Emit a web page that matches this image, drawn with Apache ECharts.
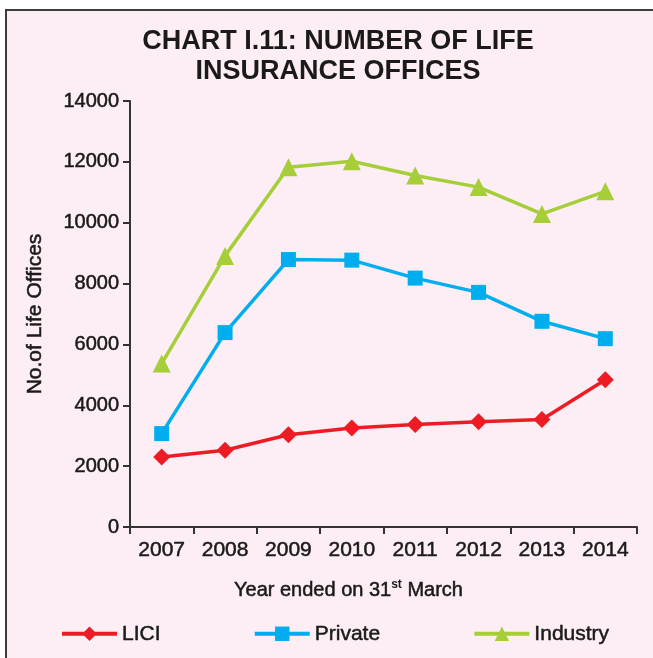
<!DOCTYPE html>
<html lang="en">

<head>
    <meta charset="UTF-8">
    <title>Chart I.11</title>
    <script src="https://cdn.jsdelivr.net/npm/echarts@6/dist/echarts.min.js"></script>
    <style>
        * {
            margin: 0;
            padding: 0
        }

        html,
        body {
            width: 653px;
            height: 658px;
            background: #fff;
            overflow: hidden;
        }

        #frame {
            position: absolute;
            left: 5px;
            top: 9px;
            width: 700px;
            height: 700px;
            border-top: 2px solid #3c3c3c;
            border-left: 2px solid #3c3c3c;
            background: #fdedf4;
        }

        #main {
            position: absolute;
            left: 0;
            top: 0;
            width: 653px;
            height: 658px;
        }
    </style>
</head>

<body>
    <div id="frame"></div>
    <div id="main"></div>
    <script type="text/javascript">
        var years = ['2007', '2008', '2009', '2010', '2011', '2012', '2013', '2014'];
        var lici = [2300, 2520, 3030, 3250, 3370, 3460, 3530, 4840];
        var priv = [3070, 6390, 8790, 8770, 8180, 7710, 6760, 6190];
        var industry = [5370, 8910, 11820, 12020, 11550, 11170, 10290, 11030];

        var font = 'Liberation Sans, Arial, sans-serif';
        var ink = '#1a1a1a';
        // slight outline to thicken the regular face a little
        var heavy = { textBorderColor: ink, textBorderWidth: 0.5 };
        var myChart = echarts.init(document.getElementById('main'));

        var option = {
            backgroundColor: 'transparent',
            animation: false,
            title: {
                text: 'CHART I.11: NUMBER OF LIFE\nINSURANCE OFFICES',
                left: 333,
                top: 22,
                textAlign: 'center',
                textStyle: {
                    fontFamily: font,
                    fontSize: 27,
                    fontWeight: 'bold',
                    color: ink,
                    lineHeight: 30
                }
            },
            legend: {
                left: 55,
                top: 618,
                itemWidth: 55,
                itemHeight: 18,
                itemGap: 92,
                lineStyle: { width: 4 },
                textStyle: Object.assign({
                    fontFamily: font,
                    fontSize: 21,
                    color: ink
                }, heavy),
                data: ['LICI', 'Private', 'Industry']
            },
            grid: {
                left: 130,
                right: 16,
                top: 101,
                bottom: 131,
                containLabel: false
            },
            xAxis: {
                type: 'category',
                data: years,
                boundaryGap: true,
                name: '{a|Year ended on 31}{s|st}{a| March}',
                nameLocation: 'middle',
                nameGap: 52,
                nameTextStyle: {
                    padding: [0, 70, 0, 0],
                    rich: {
                        a: Object.assign({ fontFamily: font, fontSize: 20, color: ink }, heavy),
                        s: { fontFamily: font, fontSize: 12, color: ink, fontWeight: 'bold', verticalAlign: 'top', padding: [0, 0, 10, 0] }
                    }
                },
                axisLine: { lineStyle: { color: '#333', width: 2 } },
                axisTick: { show: true, length: 7, lineStyle: { color: '#333', width: 2 } },
                axisLabel: Object.assign({
                    fontFamily: font,
                    fontSize: 21,
                    color: ink,
                    margin: 13
                }, heavy),
                splitLine: { show: false }
            },
            yAxis: {
                type: 'value',
                min: 0,
                max: 14000,
                interval: 2000,
                name: 'No.of Life Offices',
                nameLocation: 'middle',
                nameGap: 84,
                nameTextStyle: Object.assign({
                    fontFamily: font,
                    fontSize: 21,
                    color: ink
                }, heavy),
                axisLine: { show: true, lineStyle: { color: '#333', width: 2 } },
                axisTick: { show: true, length: 7, lineStyle: { color: '#333', width: 2 } },
                axisLabel: Object.assign({
                    fontFamily: font,
                    fontSize: 20,
                    color: ink,
                    margin: 11,
                    formatter: function (v) { return String(v); }
                }, heavy),
                splitLine: { show: false }
            },
            series: [
                {
                    name: 'LICI',
                    type: 'line',
                    data: lici,
                    symbol: 'diamond',
                    symbolSize: 17,
                    color: '#ed1c24',
                    lineStyle: { width: 3.5 }
                },
                {
                    name: 'Private',
                    type: 'line',
                    data: priv,
                    symbol: 'rect',
                    symbolSize: 15,
                    color: '#00aeef',
                    lineStyle: { width: 3.5 }
                },
                {
                    name: 'Industry',
                    type: 'line',
                    data: industry,
                    symbol: 'triangle',
                    symbolSize: 18,
                    color: '#a6ce39',
                    lineStyle: { width: 3.5 }
                }
            ]
        };

        myChart.setOption(option);
    </script>
</body>

</html>
